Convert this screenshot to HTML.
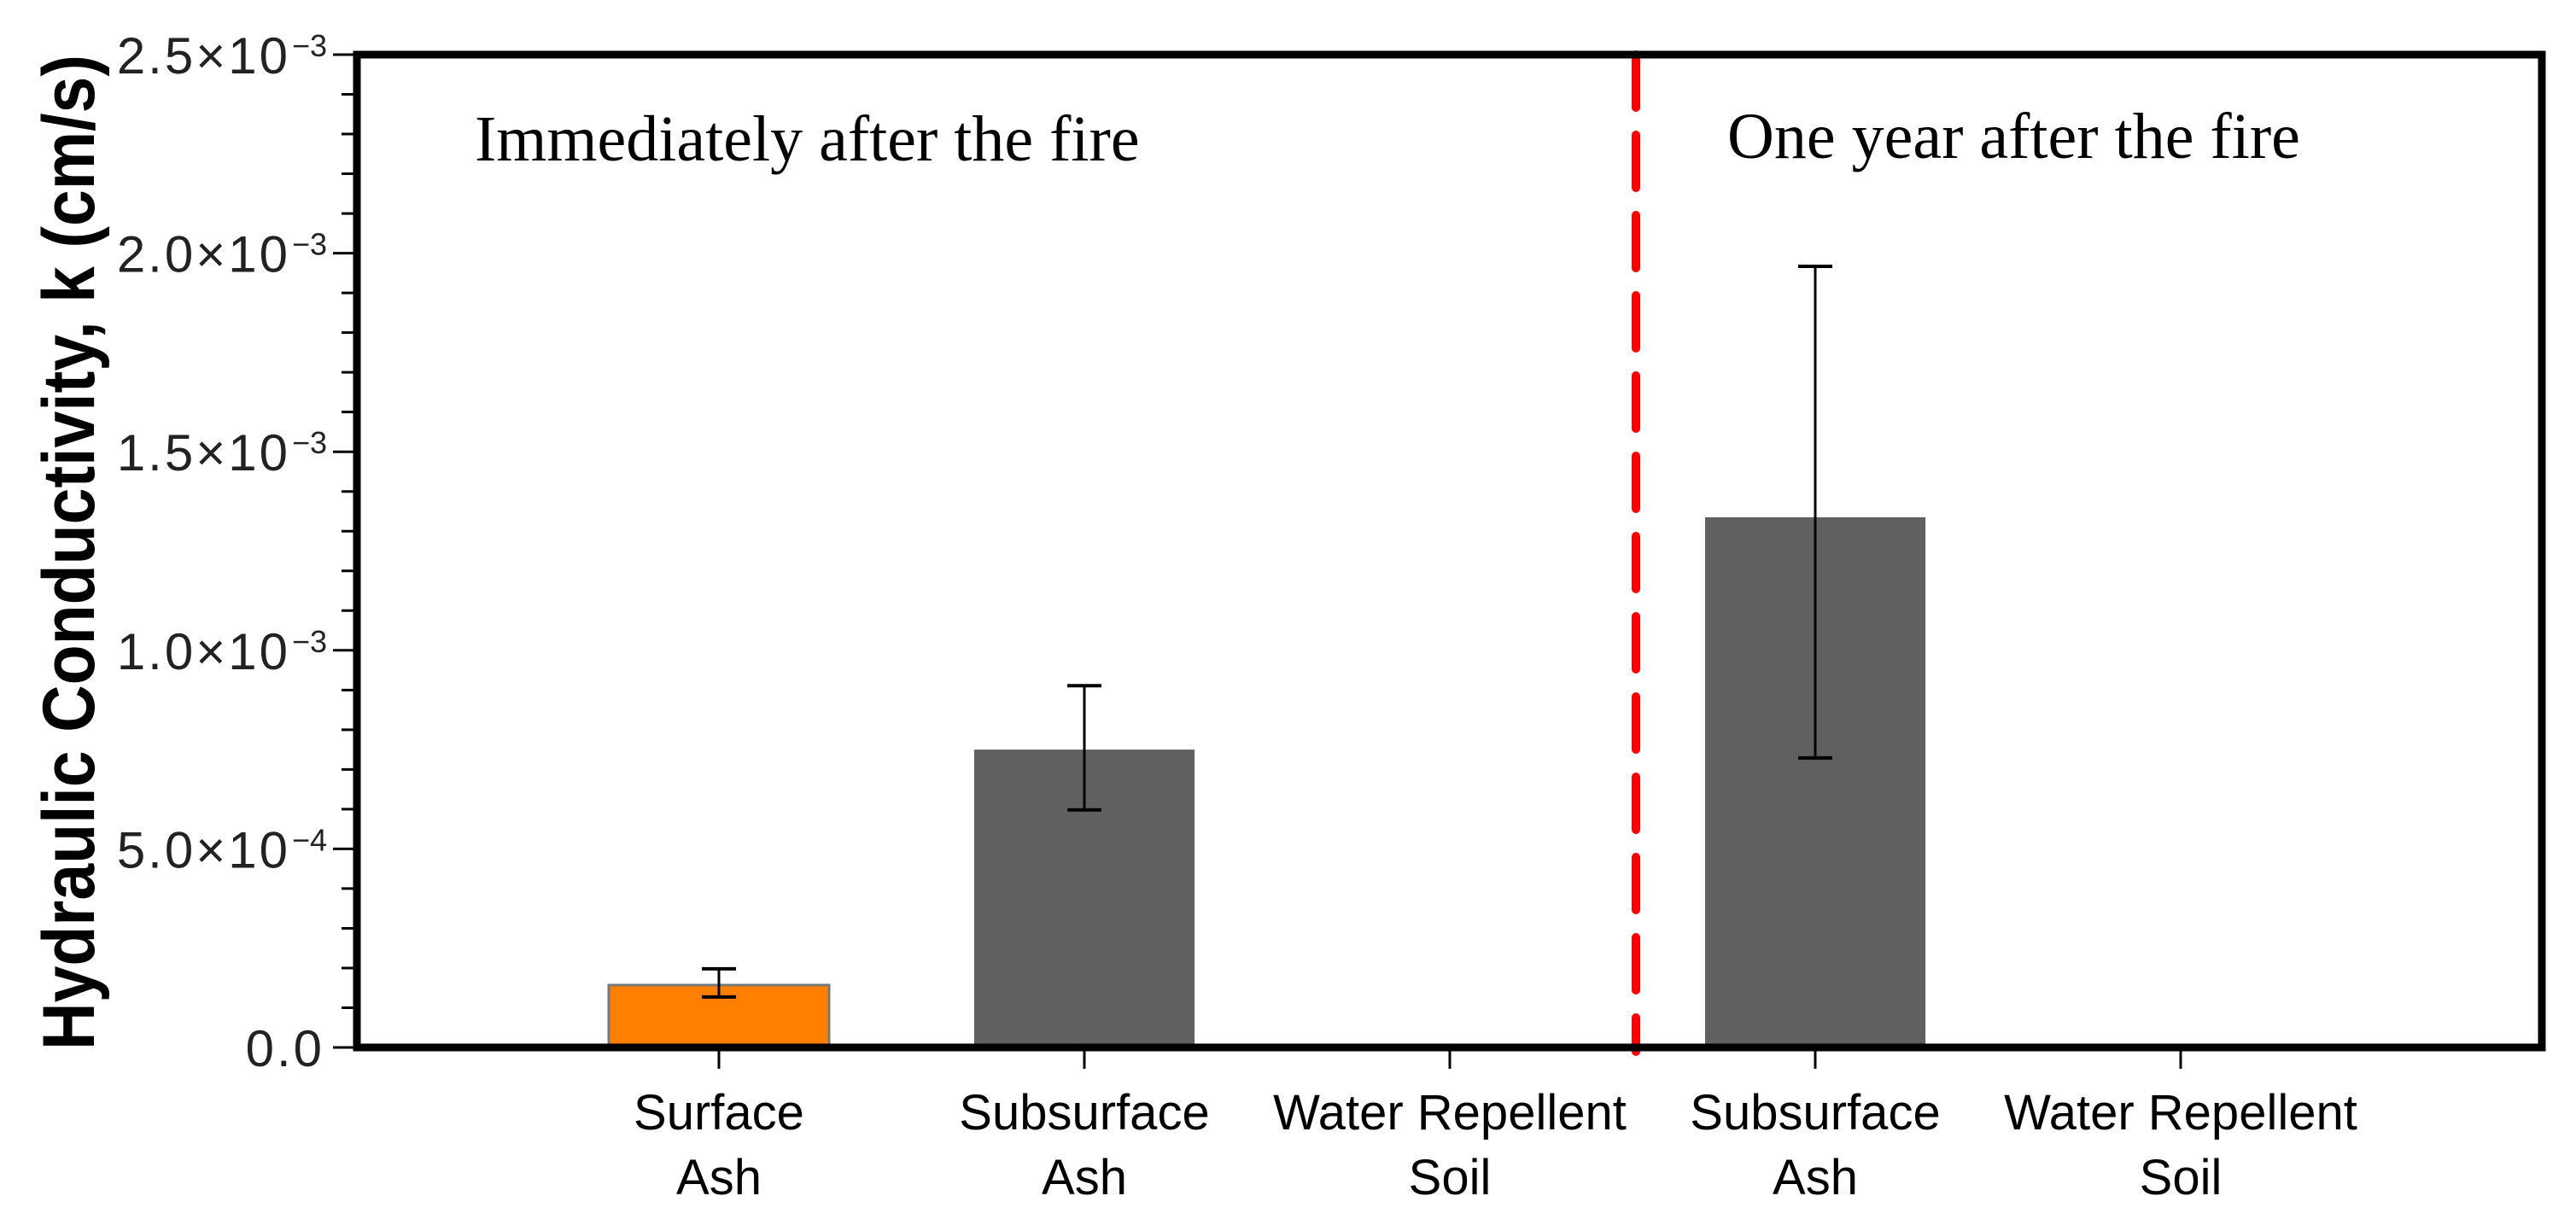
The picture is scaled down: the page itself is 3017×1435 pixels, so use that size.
<!DOCTYPE html>
<html><head><meta charset="utf-8"><style>
html,body{margin:0;padding:0;background:#fff;}
svg{display:block;}
</style></head><body>
<svg id="chart" width="3017" height="1435" viewBox="0 0 3017 1435" xmlns="http://www.w3.org/2000/svg">
<rect x="0" y="0" width="3017" height="1435" fill="#fff"/>
<g id="plot"></g>
</svg>
<script>
const categories = [["Surface","Ash"],["Subsurface","Ash"],["Water Repellent","Soil"],["Subsurface","Ash"],["Water Repellent","Soil"]];
const values = [1.57e-4, 7.5e-4, 0, 1.335e-3, 0];
const errLow = [1.27e-4, 5.98e-4, null, 7.29e-4, null];
const errHigh = [1.98e-4, 9.11e-4, null, 1.967e-3, null];
const colors = ["#ff8000","#606060","#606060","#606060","#606060"];
const yTicks = [0, 5e-4, 1e-3, 1.5e-3, 2e-3, 2.5e-3];
const yTickLabels = [["0.0",""],["5.0×10","−4"],["1.0×10","−3"],["1.5×10","−3"],["2.0×10","−3"],["2.5×10","−3"]];

const NS = "http://www.w3.org/2000/svg";
const g = document.getElementById('plot');
const L = 418, R = 2977, T = 64, B = 1227;
const x0 = 842, step = 428, barW = 258;
const yMax = 2.5e-3;
function y(v){ return B - (v / yMax) * (B - T); }
function x(i){ return x0 + i * step; }
function el(tag, attrs, parent){ const e = document.createElementNS(NS, tag); for (const k in attrs) e.setAttribute(k, attrs[k]); (parent||g).appendChild(e); return e; }

// bars
categories.forEach((c, i) => {
  if (values[i] > 0) {
    const r = el('rect', {x: x(i) - barW/2, y: y(values[i]), width: barW, height: B - y(values[i]), fill: colors[i], stroke: i === 0 ? '#777' : 'none', 'stroke-width': 3});
    
    
  }
  if (errLow[i] !== null) {
    const eg = el('g', {stroke: '#000', 'stroke-width': 3});
    
    
    el('line', {x1: x(i), x2: x(i), y1: y(errLow[i]), y2: y(errHigh[i])}, eg);
    el('line', {x1: x(i) - 20, x2: x(i) + 20, y1: y(errLow[i]), y2: y(errLow[i]), 'stroke-width': 4}, eg);
    el('line', {x1: x(i) - 20, x2: x(i) + 20, y1: y(errHigh[i]), y2: y(errHigh[i]), 'stroke-width': 4}, eg);
  }
  const tk = el('line', {x1: x(i), x2: x(i), y1: B + 4, y2: B + 25, stroke: '#000', 'stroke-width': 3});
  
  
  const t = el('text', {x: x(i), y: 1323, 'text-anchor': 'middle', 'font-family': 'Liberation Sans, sans-serif', 'font-size': 58, fill: '#000'});
  
  
  const s1 = el('tspan', {x: x(i), y: 1323}, t); s1.textContent = c[0];
  const s2 = el('tspan', {x: x(i), y: 1399}, t); s2.textContent = c[1];
});

// minor y ticks
for (let k = 0; k <= 25; k++) {
  const v = k * 1e-4;
  const major = k % 5 === 0;
  const tk = el('line', {x1: major ? 390 : 400, x2: L, y1: y(v), y2: y(v), stroke: '#000', 'stroke-width': 3});
  
  
}
yTicks.forEach((v, i) => {
  const t = el('text', {x: yTickLabels[i][1] ? 340 : 380, y: y(v) + 22, 'text-anchor': 'end', 'font-family': 'Liberation Sans, sans-serif', 'font-size': 60, fill: '#222', 'letter-spacing': 3});
  t.textContent = yTickLabels[i][0];
  
  
  if (yTickLabels[i][1]) {
    const s = el('text', {x: 342, y: y(v) + 2, 'font-family': 'Liberation Sans, sans-serif', 'font-size': 36, fill: '#222'});
    s.textContent = yTickLabels[i][1];
    
    
  }
});

// red divider
const dv = el('line', {x1: 1916, x2: 1916, y1: 64, y2: 1232, stroke: '#ff0000', 'stroke-width': 10, 'stroke-linecap': 'round', 'stroke-dasharray': '62 32'});



// frame
const fr = el('path', {d: `M${L},${T} H${R} V${B} H${L} Z`, fill: 'none', stroke: '#000', 'stroke-width': 9});



// annotations
const a1 = el('text', {x: 556, y: 188, 'font-family': 'Liberation Serif, serif', 'font-size': 76, fill: '#000'});
a1.textContent = 'Immediately after the fire';


const a2 = el('text', {x: 2023, y: 185, 'font-family': 'Liberation Serif, serif', 'font-size': 76, fill: '#000'});
a2.textContent = 'One year after the fire';



// y title
const yt = el('text', {x: 0, y: 0, transform: 'translate(110,1230) rotate(-90)', 'font-family': 'Liberation Sans, sans-serif', 'font-weight': 'bold', 'font-size': 86, fill: '#000', textLength: 1166, lengthAdjust: 'spacingAndGlyphs'});
yt.textContent = 'Hydraulic Conductivity, k (cm/s)';


</script>
</body></html>
